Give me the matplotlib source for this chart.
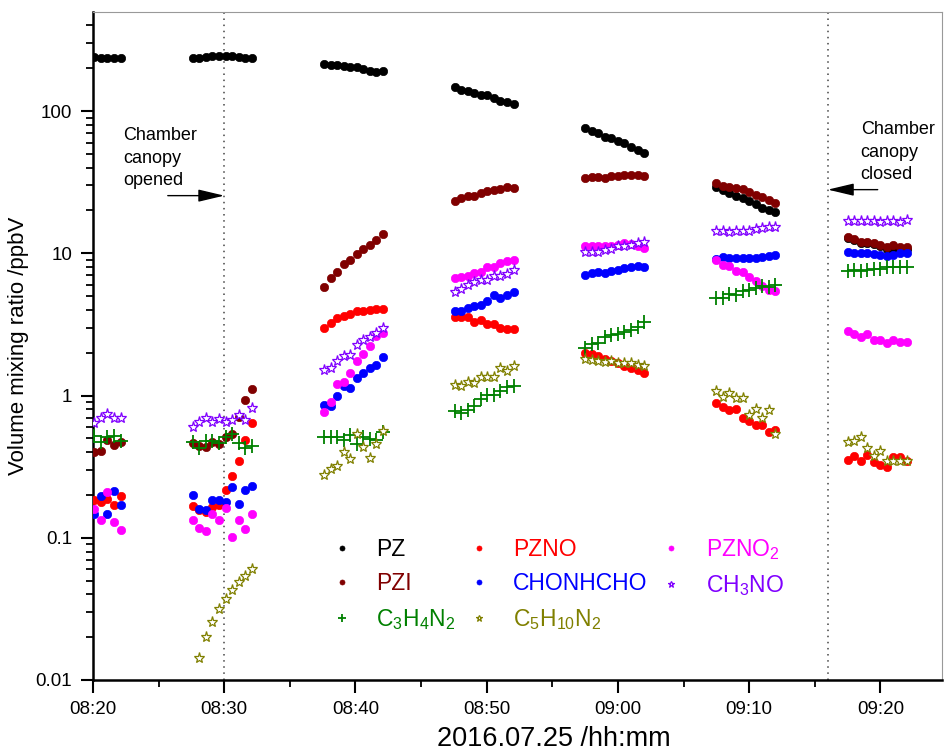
import numpy as np
import matplotlib
matplotlib.use("Agg")
import matplotlib.pyplot as plt
from matplotlib.ticker import FixedLocator, FuncFormatter, LogLocator, NullFormatter

nan = np.nan

# sampling times, minutes after 08:00, one list per measurement cycle
t_a = [20.1, 20.6, 21.1, 21.6, 22.1]
t_b = [27.6, 28.1, 28.6, 29.1, 29.6, 30.1, 30.6, 31.1, 31.6, 32.1]
t_c = [37.6, 38.1, 38.6, 39.1, 39.6, 40.1, 40.6, 41.1, 41.6, 42.1]
t_d = [47.55, 48.05, 48.55, 49.05, 49.55, 50.05, 50.55, 51.05, 51.55, 52.05]
t_e = [57.5, 58.0, 58.5, 59.0, 59.5, 60.0, 60.5, 61.0, 61.5, 62.0]
t_f = [67.5, 68.0, 68.5, 69.0, 69.5, 70.0, 70.5, 71.0, 71.5, 72.0]
t_g = [77.5, 78.0, 78.5, 79.0, 79.5, 80.0, 80.5, 81.0, 81.5, 82.0]
cycles = [t_a, t_b, t_c, t_d, t_e, t_f, t_g]

# volume mixing ratios (ppbV) per cycle
pz = [
    [240, 238, 238, 237, 237],
    [236, 238, 240, 242, 243, 244, 242, 240, 238, 236],
    [214, 212, 211, 208, 203, 203, 199, 191, 189, 190],
    [147, 141, 138, 133, 130, 129, 124, 118, 116, 112],
    [75.6, 71.9, 69.7, 66.1, 64.3, 61.9, 59.3, 56.2, 53.3, 50.5],
    [29.4, 27.9, 26.4, 25.4, 24.4, 23.3, 22.1, 20.8, 20.3, 19.4],
    [12.8, 12.4, 11.9, 11.9, 11.6, 11.3, 10.7, 10.6, 10.7, 10.8],
]
pzi = [
    [0.40, 0.41, 0.49, 0.45, 0.47],
    [0.46, 0.445, 0.433, 0.47, 0.457, 0.51, 0.54, 0.71, 0.93, 1.11],
    [5.83, 6.71, 7.43, 8.37, 8.99, 9.91, 10.8, 11.5, 12.5, 13.6],
    [23.5, 24.5, 25.2, 25.4, 26.4, 27.6, 27.9, 28.2, 29.1, 28.8],
    [33.9, 34.4, 34.6, 34.0, 35.2, 35.2, 35.6, 35.6, 35.6, 34.8],
    [31.0, 29.9, 29.4, 28.6, 28.2, 26.9, 25.7, 25.0, 23.7, 22.6],
    [12.97, 12.56, 12.03, 12.03, 11.76, 11.37, 11.01, 11.45, 11.14, 11.14],
]
pzno = [
    [0.185, 0.179, 0.188, 0.171, 0.195],
    [0.167, 0.156, 0.151, 0.164, 0.170, 0.215, 0.271, 0.345, 0.49, 0.64],
    [2.99, 3.24, 3.48, 3.61, 3.75, 3.91, 3.91, 4.00, 4.04, 4.09],
    [3.59, 3.55, 3.55, 3.31, 3.40, 3.19, 3.19, 2.99, 2.94, 2.94],
    [1.98, 1.95, 1.90, 1.80, 1.75, 1.70, 1.62, 1.55, 1.52, 1.45],
    [0.89, 0.83, 0.79, 0.81, 0.70, 0.66, 0.62, 0.62, 0.55, 0.57],
    [0.353, 0.373, 0.344, 0.379, 0.34, 0.327, 0.313, 0.368, 0.368, 0.349],
]
chonhcho = [
    [0.148, 0.198, 0.148, 0.213, 0.169],
    [0.20, 0.16, 0.157, 0.183, 0.183, 0.178, 0.229, 0.173, 0.218, 0.231],
    [0.86, 0.84, 1.00, 1.16, 1.13, 1.32, 1.43, 1.55, 1.65, 1.87],
    [3.96, 3.96, 4.11, 4.29, 4.36, 4.65, 5.05, 4.86, 5.10, 5.32],
    [7.08, 7.23, 7.40, 7.32, 7.56, 7.68, 7.89, 7.97, 8.15, 7.97],
    [9.08, 9.37, 9.22, 9.22, 9.22, 9.22, 9.28, 9.37, 9.50, 9.70],
    [10.2, 10.0, 10.0, 10.1, 9.9, 9.8, 9.6, 9.75, 10.0, 10.07],
]
pzno2 = [
    [0.16, 0.134, 0.211, 0.130, 0.114],
    [0.134, 0.117, 0.111, 0.146, 0.134, 0.161, 0.102, 0.134, 0.116, 0.146],
    [0.77, 0.90, 1.20, 1.24, 1.45, 1.74, 1.97, 2.23, 2.61, 2.74],
    [6.67, 6.86, 6.97, 7.28, 7.43, 8.07, 8.07, 8.51, 8.79, 9.03],
    [11.3, 11.2, 11.2, 11.2, 11.3, 11.5, 11.8, 11.6, 11.2, 10.9],
    [8.98, 8.33, 8.15, 7.55, 7.40, 6.82, 6.43, 5.93, 5.53, 5.44],
    [2.82, 2.72, 2.57, 2.72, 2.46, 2.46, 2.34, 2.44, 2.36, 2.36],
]
ch3no = [
    [0.64, 0.69, 0.74, 0.70, 0.69],
    [0.60, 0.65, 0.69, 0.65, 0.68, 0.65, 0.67, 0.73, 0.67, 0.82],
    [1.50, 1.57, 1.74, 1.91, 1.93, 2.27, 2.44, 2.57, 2.76, 2.97],
    [5.38, 5.62, 6.00, 6.25, 6.50, 6.50, 6.97, 6.97, 7.16, 7.64],
    [10.2, 10.2, 10.2, 10.6, 10.8, 11.2, 11.3, 11.5, 11.8, 12.1],
    [14.3, 14.3, 14.1, 14.4, 14.4, 14.4, 14.8, 15.0, 15.2, 15.2],
    [16.8, 16.8, 16.8, 16.8, 16.8, 16.5, 16.8, 16.8, 16.5, 17.2],
]
c3h4n2 = [
    [0.52, 0.47, 0.51, 0.52, 0.48],
    [0.47, 0.43, 0.48, 0.48, 0.46, 0.51, 0.54, 0.46, 0.43, 0.445],
    [0.515, 0.515, 0.515, 0.483, 0.524, 0.457, 0.51, 0.496, 0.483, 0.552],
    [0.776, 0.755, 0.797, 0.841, 0.948, 1.01, 1.01, 1.07, 1.14, 1.16],
    [2.16, 2.31, 2.33, 2.57, 2.67, 2.71, 2.79, 2.90, 3.05, 3.27],
    [4.86, 4.86, 5.19, 5.13, 5.41, 5.53, 5.71, 5.93, 5.83, 6.00],
    [7.48, 7.64, 7.56, 7.64, 7.77, 7.77, 7.97, 7.97, 8.07, 8.07],
]
c5h10n2 = [
    [nan, nan, nan, nan, nan],
    [nan, 0.0143, 0.020, 0.0255, 0.0317, 0.037, 0.043, 0.049, 0.054, 0.060],
    [0.274, 0.305, 0.322, 0.40, 0.359, 0.538, 0.438, 0.362, 0.453, 0.561],
    [1.18, 1.16, 1.24, 1.23, 1.35, 1.36, 1.35, 1.56, 1.48, 1.60],
    [1.80, 1.78, 1.75, 1.72, 1.75, 1.70, 1.68, 1.70, 1.65, 1.60],
    [1.07, 0.98, 1.04, 0.96, 0.96, 0.73, 0.81, 0.70, 0.79, 0.54],
    [0.47, 0.48, 0.51, 0.43, 0.375, 0.406, 0.344, 0.349, 0.349, 0.346],
]

labels = ["PZ", "PZI", r"C$_3$H$_4$N$_2$", "PZNO", "CHONHCHO",
          r"C$_5$H$_{10}$N$_2$", r"PZNO$_2$", r"CH$_3$NO"]
series = [pz, pzi, c3h4n2, pzno, chonhcho, c5h10n2, pzno2, ch3no]
colors = ["black", "#800000", "#008000", "#ff0000", "#0000ff",
          "#808000", "#ff00ff", "#8000ff"]
markers = ["o", "o", "+", "o", "o", "*", "o", "*"]
# drawing order (back to front)
z_order = [0, 1, 3, 4, 6, 7, 2, 5]

plt.rcParams["font.family"] = ["Liberation Sans", "DejaVu Sans"]
plt.rcParams["mathtext.fontset"] = "custom"
plt.rcParams["mathtext.rm"] = "Liberation Sans"
plt.rcParams["mathtext.it"] = "Liberation Sans:italic"
narrow = ["Liberation Sans Narrow", "Liberation Sans", "DejaVu Sans"]


def ypix(p):
    # value that sits at pixel row p of the log axis
    return 10 ** ((395 - p) / 142.3)


fig = plt.figure(figsize=(9.44, 7.53), dpi=100)
ax = fig.add_axes([0.0985, 0.097, 0.8994, 0.887])

t_all = np.concatenate(cycles)
handles = {}
for rank, i in enumerate(z_order):
    y = np.concatenate([np.asarray(v, float) for v in series[i]])
    if markers[i] == "o":
        kw = dict(marker="o", ms=6.0, mfc=colors[i], mec=colors[i], mew=0.5)
    elif markers[i] == "*":
        kw = dict(marker="*", ms=8.0, mfc="white", mec=colors[i], mew=0.9)
    else:
        kw = dict(marker="+", ms=10, mec=colors[i], mew=1.3)
    h, = ax.plot(t_all, y, ls="none", color=colors[i], label=labels[i],
                 zorder=2 + rank, **kw)
    handles[i] = h

ax.set_yscale("log")
ax.set_ylim(0.01, 497)
ax.set_xlim(20, 84.7)

# canopy open / closed markers
for xv in (30, 76):
    ax.axvline(xv, color="#444444", ls=(0, (1, 3)), lw=1.1, zorder=1)

arrow = dict(arrowstyle="-|>,head_length=1.6,head_width=0.38",
             color="black", lw=1, shrinkA=0, shrinkB=0)
ax.annotate("", xy=(30, ypix(195)), xytext=(25.7, ypix(195)), arrowprops=arrow)
ax.text(22.3, ypix(126), "Chamber\ncanopy\nopened",
        fontsize=13, va="top", ha="left", linespacing=1.45)
ax.annotate("", xy=(76, ypix(189)), xytext=(79.8, ypix(189)), arrowprops=arrow)
ax.text(78.5, ypix(120), "Chamber\ncanopy\nclosed",
        fontsize=13, va="top", ha="left", linespacing=1.45)

# axes styling
ax.xaxis.set_major_locator(FixedLocator([20, 30, 40, 50, 60, 70, 80]))
ax.xaxis.set_minor_locator(FixedLocator([25, 35, 45, 55, 65, 75]))
ax.xaxis.set_major_formatter(FuncFormatter(
    lambda v, p: "%02d:%02d" % (8 + int(v) // 60, int(v) % 60)))
ax.yaxis.set_major_locator(LogLocator(base=10, numticks=10))
ax.yaxis.set_minor_locator(LogLocator(base=10, subs=np.arange(2, 10), numticks=20))
ax.yaxis.set_minor_formatter(NullFormatter())
ax.yaxis.set_major_formatter(FuncFormatter(lambda v, p: "%g" % v))

ax.tick_params(which="major", direction="out", length=9, width=1.5, pad=6)
ax.tick_params(which="minor", direction="out", length=5, width=1.3)
for lab in ax.get_xticklabels() + ax.get_yticklabels():
    lab.set_family(narrow)
    lab.set_fontsize(13.5)

for side in ("left", "bottom"):
    ax.spines[side].set_linewidth(1.8)
for side in ("top", "right"):
    ax.spines[side].set_linewidth(0.8)
    ax.spines[side].set_color("#999999")

ax.set_xlabel("2016.07.25 /hh:mm", fontsize=19.5, family=narrow, va="top")
ax.xaxis.set_label_coords((554 - 93) / 849, (680 - 726) / 668)
ax.set_ylabel("Volume mixing ratio /ppbV", fontsize=16, labelpad=5)

leg = ax.legend([handles[i] for i in range(8)], labels, ncol=3,
                loc="upper left", bbox_to_anchor=(0.255, 0.245), frameon=False,
                fontsize=16.5, markerscale=0.6, handlelength=1.0,
                handletextpad=1.0, columnspacing=0.53, labelspacing=0.5,
                labelcolor="linecolor")

fig.savefig("out.png", dpi=100)
